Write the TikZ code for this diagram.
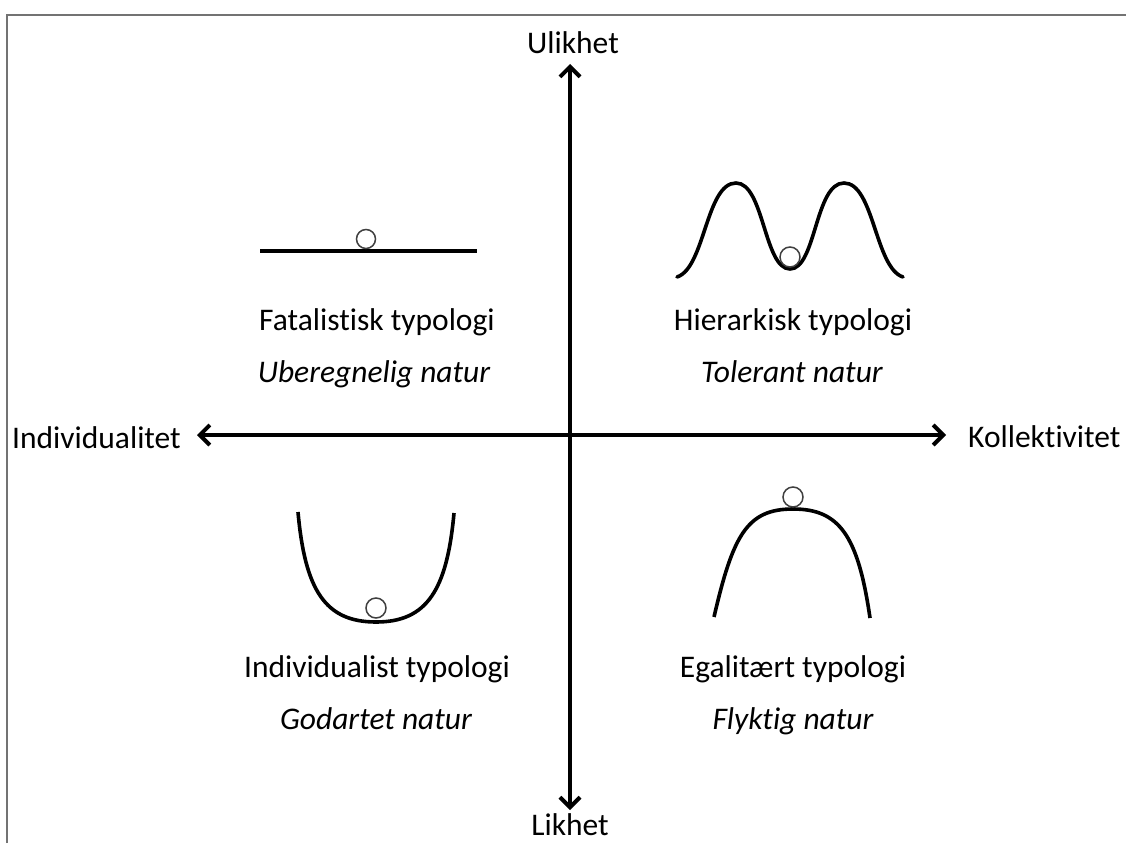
\documentclass[tikz,border=0pt]{standalone}
\usepackage{fontspec}
\setmainfont{Carlito}[Ligatures={NoCommon,NoRequired,NoContextual}]
\usetikzlibrary{arrows.meta}
\begin{document}
\begin{tikzpicture}[x=1pt,y=-1pt,
  axis/.style={line width=4pt,{Straight Barb[length=10pt,width=20pt,line width=4pt]}-{Straight Barb[length=10pt,width=20pt,line width=4pt]}},
  curve/.style={line width=3.6pt,line cap=round},
  ball/.style={line width=1.5pt,draw=black!75,fill=white},
  lbl/.style={font=\fontsize{31.5}{36}\selectfont,inner sep=0pt,anchor=base},
  frame/.style={draw=black!55,line width=2.4pt}]
\useasboundingbox (0,0) rectangle (1126,843);
% frame
\coordinate (f0) at (7,15);
\coordinate (f1) at (1126,15);
\coordinate (f2) at (7,843);
\draw[frame] (f2) -- (f0) -- (f1);
% axes
\coordinate (top) at (570,64);
\coordinate (bot) at (570,810);
\coordinate (lft) at (197,435);
\coordinate (rgt) at (946,435);
\draw[axis] (bot) -- (top);
\draw[axis] (lft) -- (rgt);
\node[lbl] (ul) at (573,53) {Ulikhet};
\node[lbl] (li) at (570,835) {Likhet};
\node[lbl,anchor=base west] (ind) at (12,448) {Individualitet};
\node[lbl,anchor=base west] (kol) at (968,447) {Kollektivitet};
% quadrant texts
\node[lbl] (t1) at (377,330) {Fatalistisk typologi};
\node[lbl] (n1) at (374,382) {\itshape Uberegnelig natur};
\node[lbl] (t2) at (793,330) {Hierarkisk typologi};
\node[lbl] (n2) at (792,382) {\itshape Tolerant natur};
\node[lbl] (t3) at (377,677) {Individualist typologi};
\node[lbl] (n3) at (376,729) {\itshape Godartet natur};
\node[lbl] (t4) at (793,677) {Egalitært typologi};
\node[lbl] (n4) at (793,729) {\itshape Flyktig natur};
% fatalist: flat line
\draw[curve,line cap=butt] (260,251) -- (477,251);
\draw[ball] (366,239) circle[radius=9.5];
% hierarchical: double hump
\draw[curve] (677,277) .. controls (705,268) and (706,183) .. (736,183)
  .. controls (764,183) and (764,269) .. (790,269)
  .. controls (816,269) and (815,183) .. (844,183)
  .. controls (874,183) and (875,268) .. (903,277);
\draw[ball] (790,257) circle[radius=10];
% individualist: U
\draw[curve,line cap=butt] (298,512) .. controls (305,590) and (325,622) .. (376,622)
  .. controls (427,622) and (447,590) .. (454,513);
\draw[ball] (376,608) circle[radius=10];
% egalitarian: arch
\draw[curve,line cap=butt] (714,617) .. controls (733,535) and (747,509) .. (793,509)
  .. controls (839,509) and (858,535) .. (870,618);
\draw[ball] (793,497) circle[radius=10];
\end{tikzpicture}
\end{document}
